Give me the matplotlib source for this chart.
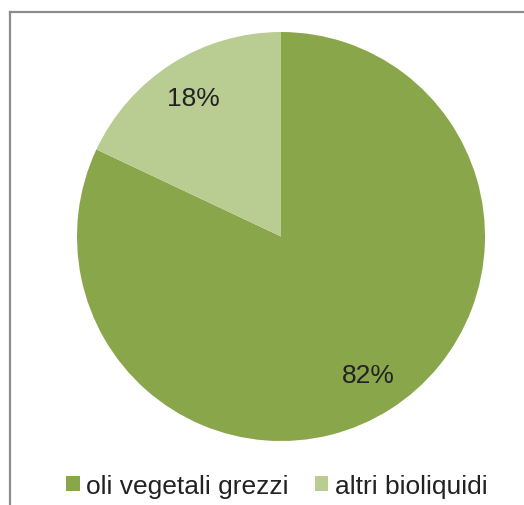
import matplotlib
matplotlib.use("Agg")
import matplotlib.pyplot as plt
from matplotlib.lines import Line2D

plt.rcParams['font.family'] = ['Liberation Sans', 'DejaVu Sans']

labels = ["oli vegetali grezzi", "altri bioliquidi"]
values = [82, 18]
colors = ["#8aa64a", "#b9cd93"]

W, H = 524, 506
fig = plt.figure(figsize=(W / 100, H / 100), dpi=100)

# pie area in pixels: x 77..485, y 33..442 (from top)
ax = fig.add_axes([77 / W, (H - 442) / H, 408 / W, 409 / H])
wedges, texts, autotexts = ax.pie(values, colors=colors, startangle=90,
                                  counterclock=False, autopct='%1.0f%%',
                                  pctdistance=0.8, radius=1,
                                  textprops={'fontsize': 19, 'color': '#222222'})
ax.set_xlim(-1, 1)
ax.set_ylim(-1, 1)
ax.set_aspect('auto')
ax.axis('off')

# chart frame (top and left edge visible)
fig.add_artist(Line2D([10 / W, 1], [1 - 13 / H, 1 - 13 / H], color='#8c8c8c', lw=1.6))
fig.add_artist(Line2D([10 / W, 10 / W], [0, 1 - 13 / H], color='#8c8c8c', lw=1.6))

fig.legend(wedges, labels, loc='center', bbox_to_anchor=(277 / W, 19 / H),
           ncol=2, frameon=False, fontsize=19, handlelength=0.5,
           handleheight=0.5, handletextpad=0.25, columnspacing=1.0,
           labelcolor='#222222')

fig.savefig("out.png", dpi=100, facecolor='white')
